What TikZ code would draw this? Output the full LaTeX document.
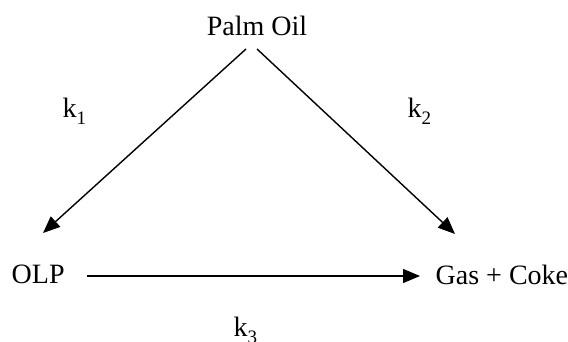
\documentclass[tikz,border=0pt]{standalone}
\usepackage{fontspec}
\setmainfont{Liberation Serif}
\usetikzlibrary{arrows.meta}
\newcommand{\rate}[1]{k\raisebox{-7pt}{\fontsize{19}{21}\selectfont #1}}
\begin{document}
\begin{tikzpicture}[x=1pt,y=-1pt,line width=1.4pt,font=\fontsize{28}{32}\selectfont,
  arr/.style={-{Triangle[length=17pt,width=14pt]}}]
\useasboundingbox (0,0) rectangle (568,342);
\node[inner sep=0,anchor=base] (palm) at (257,36) {Palm Oil};
\node[inner sep=0,anchor=base west] (olp) at (11,283.5) {OLP};
\node[inner sep=0,anchor=base west] (gas) at (435,284) {Gas + Coke};
\node[inner sep=0,anchor=base west] (k1) at (62,118) {\rate{1}};
\node[inner sep=0,anchor=base west] (k2) at (407,118) {\rate{2}};
\node[inner sep=0,anchor=base west] (k3) at (233,336) {\rate{3}};
\draw[arr] ([shift={(-11,13)}]palm.base) -- ([shift={(32,-50.5)}]olp.base west);
\draw[arr] ([shift={(0,13)}]palm.base) -- ([shift={(20,-50)}]gas.base west);
\draw[arr] ([shift={(22,-7.5)}]olp.base east) -- ([shift={(-15,-8)}]gas.base west);
\end{tikzpicture}
\end{document}
